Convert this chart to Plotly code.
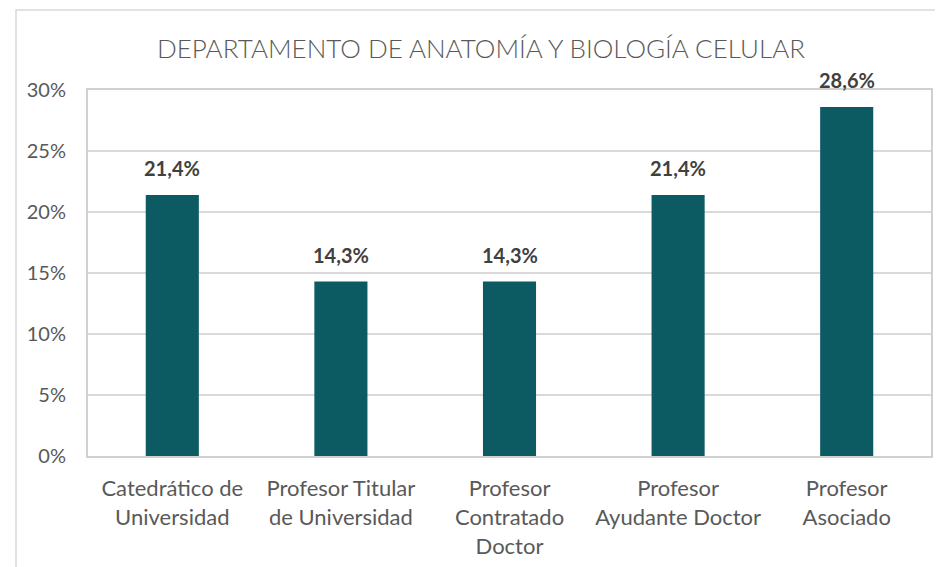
import plotly.graph_objects as go

categories = ["Catedrático de<br>Universidad", "Profesor Titular<br>de Universidad",
              "Profesor<br>Contratado<br>Doctor", "Profesor<br>Ayudante Doctor",
              "Profesor<br>Asociado"]
values = [21.4, 14.3, 14.3, 21.4, 28.6]
labels = ["21,4%", "14,3%", "14,3%", "21,4%", "28,6%"]
tick_vals = [0, 5, 10, 15, 20, 25, 30]
tick_text = ["0%", "5%", "10%", "15%", "20%", "25%", "30%"]
title = "DEPARTAMENTO DE ANATOMÍA Y BIOLOGÍA CELULAR"

FONT = "Lato, Open Sans, sans-serif"
OFF = 8  # default page body margin
W, H = 943 - OFF, 567 - OFF
L, R, T, B = 88 - OFF, 12, 90 - OFF, 111
pw, ph = W - L - R, H - T - B

fig = go.Figure(go.Bar(
    x=categories, y=values,
    marker=dict(color="#0C5B63", line=dict(width=0)),
))

for c, v, t in zip(categories, values, labels):
    fig.add_annotation(x=c, y=v, text=t, showarrow=False, yanchor="bottom", yshift=13,
                       font=dict(family=FONT, size=20, color="#404040", weight="bold"))

def px(x):
    return (x - OFF - L) / pw

def py(y):
    return (H - B - (y - OFF)) / ph

fig.update_layout(
    width=W, height=H,
    margin=dict(l=L, r=R, t=T, b=B),
    paper_bgcolor="white", plot_bgcolor="white",
    bargap=0.685,
    showlegend=False,
    title=dict(text=title, x=(481 - OFF) / W, xanchor="center", y=1 - (49 - OFF) / H, yanchor="middle",
               font=dict(family=FONT, size=26, color="#595959", weight=300)),
    font=dict(family=FONT, color="#595959"),
    xaxis=dict(showgrid=False, showline=True, linecolor="#D0D0D0", linewidth=2, mirror=True,
               automargin=False, ticks="", ticklabelstandoff=12,
               tickfont=dict(family=FONT, size=22, color="#595959"), tickangle=0),
    yaxis=dict(range=[0, 30], tickvals=tick_vals, ticktext=tick_text,
               showgrid=True, gridcolor="#D9D9D9", gridwidth=1.5,
               showline=True, linecolor="#D0D0D0", linewidth=2, mirror=True,
               automargin=False, zeroline=False, ticks="", ticklabelstandoff=16,
               tickfont=dict(family=FONT, size=20, color="#595959")),
    shapes=[dict(type="rect", xref="paper", yref="paper",
                 x0=px(16), x1=px(960), y0=py(600), y1=py(10),
                 line=dict(color="#D9D9D9", width=1.5), layer="below")],
)

fig.write_html("out.html")
